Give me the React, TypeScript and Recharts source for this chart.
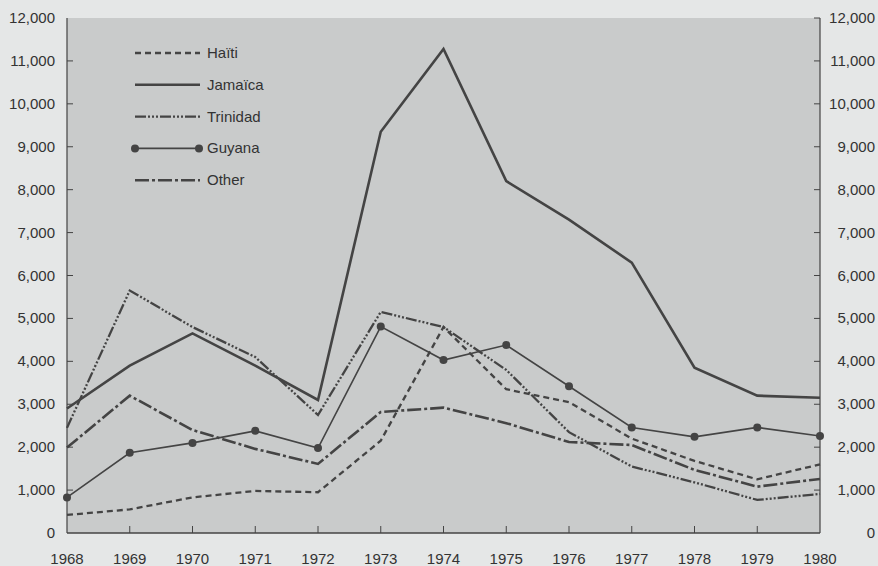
import React from "react";
import { LineChart, Line, XAxis, YAxis, CartesianGrid, Legend } from "recharts";

const years = [1968, 1969, 1970, 1971, 1972, 1973, 1974, 1975, 1976, 1977, 1978, 1979, 1980];
const haiti = [420, 550, 830, 980, 950, 2150, 4800, 3350, 3050, 2200, 1680, 1250, 1600];
const jamaica = [2900, 3900, 4650, 3900, 3100, 9350, 11280, 8200, 7300, 6300, 3850, 3200, 3150];
const trinidad = [2450, 5650, 4800, 4100, 2750, 5150, 4800, 3800, 2350, 1550, 1180, 770, 910];
const guyana = [830, 1870, 2100, 2380, 1980, 4810, 4030, 4380, 3420, 2460, 2240, 2460, 2260];
const other = [1990, 3200, 2400, 1960, 1610, 2820, 2920, 2560, 2120, 2050, 1470, 1080, 1260];
const yTicks = [0, 1000, 2000, 3000, 4000, 5000, 6000, 7000, 8000, 9000, 10000, 11000, 12000];

const data = years.map((y, i) => ({
  year: y,
  haiti: haiti[i],
  jamaica: jamaica[i],
  trinidad: trinidad[i],
  guyana: guyana[i],
  other: other[i],
}));

const INK = "#444444";
const FONT = "'Liberation Sans', Arial, Helvetica, sans-serif";

const series = [
  { key: "haiti", name: "Haïti", dash: "6 4", width: 2.3, dot: false },
  { key: "jamaica", name: "Jamaïca", dash: undefined, width: 2.6, dot: false },
  { key: "trinidad", name: "Trinidad", dash: "11 2 2 2 2 2 2 2", width: 2.3, dot: false },
  { key: "guyana", name: "Guyana", dash: undefined, width: 1.6, dot: true },
  { key: "other", name: "Other", dash: "14 3 3 3", width: 2.6, dot: false },
];

const fmt = (v: number) => v.toLocaleString("en-US");

const LeftTick = (props: any) => {
  const { x, y, payload } = props;
  return (
    <g>
      {payload.value !== 0 && payload.value !== 12000 && (
        <line x1={x} x2={x + 6} y1={y} y2={y} stroke={INK} strokeWidth={1} />
      )}
      <text x={x - 12} y={y + 5} textAnchor="end" fontSize={15} fill="#333" fontFamily={FONT}>
        {fmt(payload.value)}
      </text>
    </g>
  );
};

const RightTick = (props: any) => {
  const { x, y, payload } = props;
  return (
    <g>
      {payload.value !== 0 && (
        <line x1={x} x2={x - 6} y1={y} y2={y} stroke={INK} strokeWidth={1} />
      )}
      <text x={x + 55} y={y + 5} textAnchor="end" fontSize={15} fill="#333" fontFamily={FONT}>
        {fmt(payload.value)}
      </text>
    </g>
  );
};

const BottomTick = (props: any) => {
  const { x, y, payload } = props;
  const edge = payload.value === 1968 || payload.value === 1980;
  return (
    <g>
      {!edge && <line x1={x} x2={x} y1={y} y2={y - 7} stroke={INK} strokeWidth={1} />}
      <text x={x} y={y + 31} textAnchor="middle" fontSize={15} fill="#333" fontFamily={FONT}>
        {payload.value}
      </text>
    </g>
  );
};

const LegendContent = () => (
  <svg width={160} height={150} style={{ display: "block" }}>
    {series.map((s, i) => {
      const cy = 13 + i * 31.8;
      return (
        <g key={s.key}>
          <line
            x1={5}
            x2={70}
            y1={cy}
            y2={cy}
            stroke={INK}
            strokeWidth={s.width}
            strokeDasharray={s.dash}
          />
          {s.dot && (
            <>
              <circle cx={5} cy={cy} r={4} fill={INK} />
              <circle cx={69} cy={cy} r={4} fill={INK} />
            </>
          )}
          <text x={77} y={cy + 5} fontSize={15} fill="#333" fontFamily={FONT}>
            {s.name}
          </text>
        </g>
      );
    })}
  </svg>
);

export default function App() {
  return (
    <div
      style={{
        position: "absolute",
        left: 0,
        top: 0,
        width: 878,
        height: 566,
        background: "#e5e7e7",
      }}
    >
      <LineChart
        width={878}
        height={566}
        data={data}
        margin={{ top: 18, right: 0, bottom: 0, left: 0 }}
      >
        <CartesianGrid yAxisId="left" horizontal={false} vertical={false} fill="#c9cbcb" />
        <XAxis
          dataKey="year"
          type="number"
          domain={[1968, 1980]}
          ticks={years}
          height={33}
          tickSize={0}
          tickMargin={0}
          axisLine={{ stroke: INK, strokeWidth: 1.5 }}
          tickLine={false}
          tick={BottomTick}
          interval={0}
        />
        <YAxis
          yAxisId="left"
          orientation="left"
          domain={[0, 12000]}
          ticks={yTicks}
          width={67}
          tickSize={0}
          tickMargin={0}
          axisLine={{ stroke: INK, strokeWidth: 1.2 }}
          tickLine={false}
          tick={LeftTick}
          interval={0}
        />
        <YAxis
          yAxisId="right"
          orientation="right"
          domain={[0, 12000]}
          ticks={yTicks}
          width={58}
          tickSize={0}
          tickMargin={0}
          axisLine={{ stroke: INK, strokeWidth: 1.2 }}
          tickLine={false}
          tick={RightTick}
          interval={0}
        />
        <Legend
          layout="vertical"
          align="center"
          verticalAlign="middle"
          content={LegendContent}
          wrapperStyle={{ position: "absolute", left: 130, top: 40, width: 160, height: 150 }}
        />
        <Line
          yAxisId="right"
          dataKey="jamaica"
          stroke="none"
          dot={false}
          activeDot={false}
          legendType="none"
          isAnimationActive={false}
        />
        {series.map((s) => (
          <Line
            key={s.key}
            yAxisId="left"
            dataKey={s.key}
            name={s.name}
            type="linear"
            stroke={INK}
            strokeWidth={s.width}
            strokeDasharray={s.dash}
            dot={s.dot ? { r: 4, fill: INK, stroke: INK, strokeWidth: 0 } : false}
            activeDot={false}
            isAnimationActive={false}
          />
        ))}
      </LineChart>
    </div>
  );
}
